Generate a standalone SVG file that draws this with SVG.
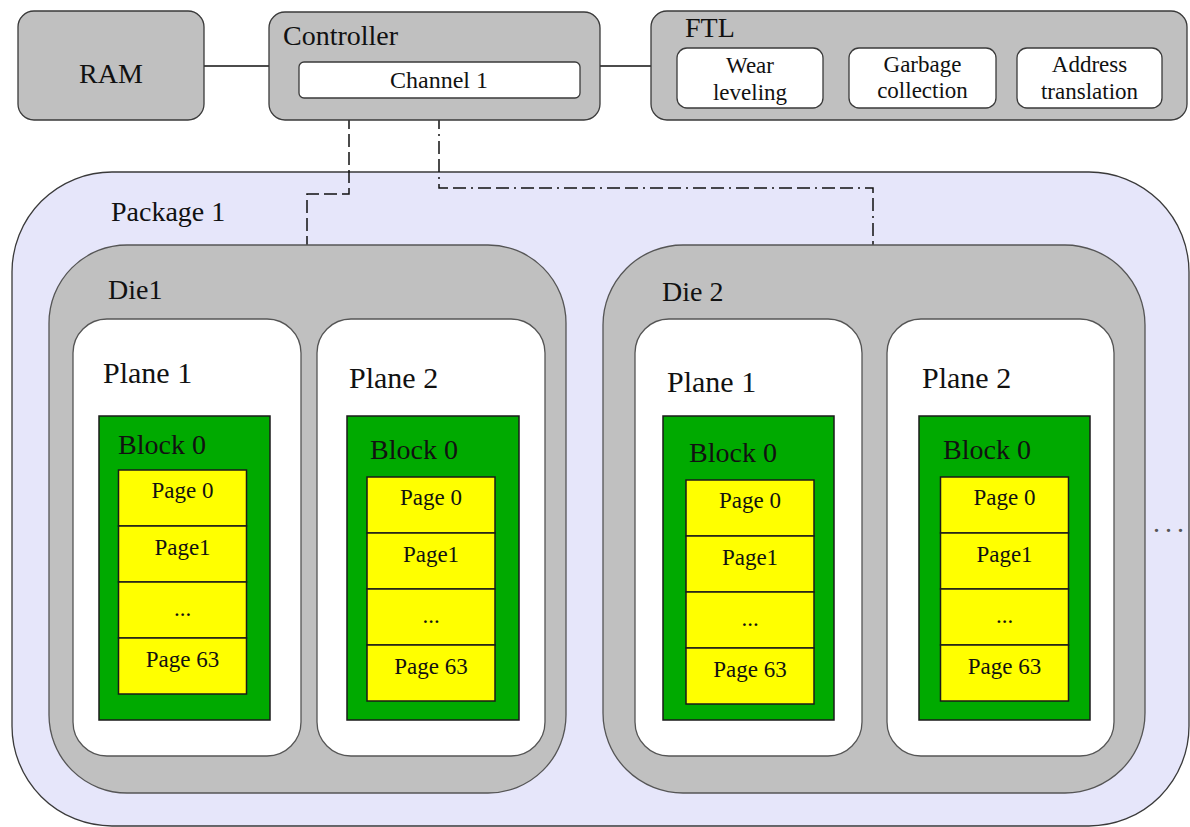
<svg xmlns="http://www.w3.org/2000/svg" width="1190" height="827" viewBox="0 0 1190 827" font-family="Liberation Serif, Times New Roman, Times, serif">
  <style>
    text { font-family: "Times New Roman", "Liberation Serif", Times, serif; fill: #111; }
    .gray { fill: #c0c0c0; stroke: #3a3a3a; stroke-width: 1.3; }
    .sub { fill: #ffffff; stroke: #3a3a3a; stroke-width: 1.3; }
    .pkg { fill: #e6e6fa; stroke: #3a3a3a; stroke-width: 1.3; }
    .die { fill: #c0c0c0; stroke: #555; stroke-width: 1.3; }
    .plane { fill: #ffffff; stroke: #555; stroke-width: 1.3; }
    .block { fill: #00aa00; stroke: #1a1a1a; stroke-width: 1.5; }
    .page { fill: #ffff00; stroke: #1a1a1a; stroke-width: 1.5; }
    .t28 { font-size: 28px; }
    .t30 { font-size: 30px; }
    .t23 { font-size: 23px; text-anchor: middle; }
    .pg { font-size: 23px; text-anchor: middle; }
    .link { fill: none; stroke: #111; stroke-width: 1.5; }
    .dash { fill: none; stroke: #111; stroke-width: 1.5; stroke-dasharray: 13 5; }
    .dashdot { fill: none; stroke: #111; stroke-width: 1.5; stroke-dasharray: 13 5 13 5 2 5; }
  </style>

  <defs>
    <!-- page rows of one block, 56px each -->
    <g id="pageStack">
      <rect class="page" x="0" y="0" width="128" height="56"/>
      <rect class="page" x="0" y="56" width="128" height="56"/>
      <rect class="page" x="0" y="112" width="128" height="56"/>
      <rect class="page" x="0" y="168" width="128" height="56"/>
      <text class="pg" x="64" y="28">Page 0</text>
      <text class="pg" x="64" y="85">Page1</text>
      <text class="pg" x="64" y="146">...</text>
      <text class="pg" x="64" y="197">Page 63</text>
    </g>
  </defs>

  <!-- package container -->
  <g id="package1">
    <rect class="pkg" x="12" y="172" width="1177" height="654" rx="100" ry="100"/>
    <text class="t28" x="111" y="221">Package 1</text>
    <text x="1153" y="532" style="font-size:28px; fill:#555; letter-spacing:5px">...</text>
  </g>

  <!-- connectors -->
  <g id="connectors">
    <line class="link" x1="204" y1="66" x2="269" y2="66"/>
    <line class="link" x1="600" y1="66" x2="651" y2="66"/>
    <polyline class="dash" points="349,98 349,194 307,194 307,245"/>
    <polyline class="dashdot" points="439,98 439,188 873,188 873,245"/>
  </g>

  <!-- top row -->
  <g id="ram">
    <rect class="gray" x="18" y="11" width="186" height="109" rx="16" ry="16"/>
    <text class="t28" x="111" y="83" text-anchor="middle">RAM</text>
  </g>

  <g id="controller">
    <rect class="gray" x="269" y="12" width="331" height="108" rx="16" ry="16"/>
    <text class="t28" x="283" y="45">Controller</text>
    <rect class="sub" x="299" y="62" width="281" height="36" rx="5" ry="5"/>
    <text x="439" y="88" text-anchor="middle" style="font-size:24px">Channel 1</text>
  </g>

  <g id="ftl">
    <rect class="gray" x="651" y="11" width="536" height="109" rx="16" ry="16"/>
    <text class="t28" x="685" y="37">FTL</text>
    <rect class="sub" x="677" y="48" width="146" height="60" rx="10" ry="10"/>
    <text class="t23" x="750" y="73">Wear</text>
    <text class="t23" x="750" y="100">leveling</text>
    <rect class="sub" x="849" y="48" width="147" height="60" rx="10" ry="10"/>
    <text class="t23" x="922.5" y="72">Garbage</text>
    <text class="t23" x="922.5" y="98">collection</text>
    <rect class="sub" x="1017" y="48" width="145" height="60" rx="10" ry="10"/>
    <text class="t23" x="1089.5" y="72">Address</text>
    <text class="t23" x="1089.5" y="99">translation</text>
  </g>

  <!-- die 1 -->
  <g id="die1">
    <rect class="die" x="49" y="245" width="517" height="548" rx="78" ry="78"/>
    <text class="t28" x="108" y="299">Die1</text>

    <g id="die1-plane1">
      <rect class="plane" x="73" y="319" width="228" height="437" rx="34" ry="34"/>
      <text class="t30" x="103" y="383">Plane 1</text>
      <rect class="block" x="99" y="416" width="171" height="304"/>
      <text class="t28" x="118" y="454">Block 0</text>
      <use href="#pageStack" x="118.5" y="470"/>
    </g>

    <g id="die1-plane2">
      <rect class="plane" x="317" y="319" width="228" height="437" rx="34" ry="34"/>
      <text class="t30" x="349" y="388">Plane 2</text>
      <rect class="block" x="347" y="416" width="172" height="304"/>
      <text class="t28" x="370" y="459">Block 0</text>
      <use href="#pageStack" x="367" y="477"/>
    </g>
  </g>

  <!-- die 2 -->
  <g id="die2">
    <rect class="die" x="603" y="245" width="542" height="548" rx="80" ry="80"/>
    <text class="t28" x="662" y="301">Die 2</text>

    <g id="die2-plane1">
      <rect class="plane" x="635" y="319" width="227" height="437" rx="34" ry="34"/>
      <text class="t30" x="667" y="392">Plane 1</text>
      <rect class="block" x="663" y="416" width="171" height="304"/>
      <text class="t28" x="689" y="462">Block 0</text>
      <use href="#pageStack" x="686" y="480"/>
    </g>

    <g id="die2-plane2">
      <rect class="plane" x="887" y="319" width="227" height="437" rx="34" ry="34"/>
      <text class="t30" x="922" y="388">Plane 2</text>
      <rect class="block" x="919" y="416" width="171" height="304"/>
      <text class="t28" x="943" y="459">Block 0</text>
      <use href="#pageStack" x="940.5" y="477"/>
    </g>
  </g>
</svg>
